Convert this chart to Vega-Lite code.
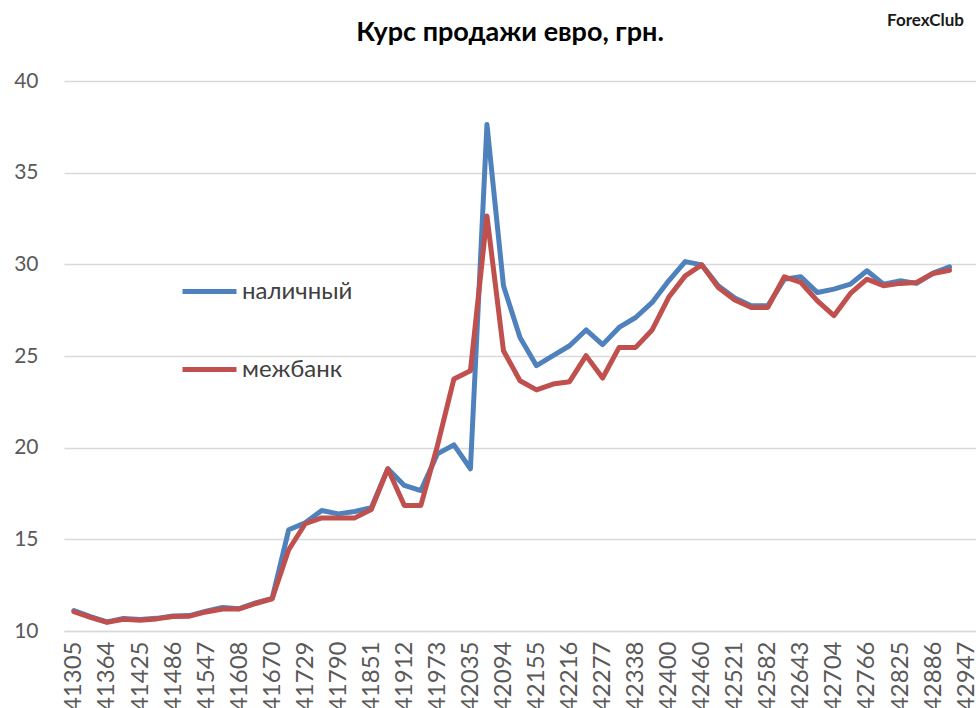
{
  "$schema": "https://vega.github.io/schema/vega-lite/v6.json",
  "autosize": {"type": "none"},
  "width": 912,
  "height": 550,
  "padding": {"left": 64, "top": 81, "right": 0, "bottom": 77},
  "background": "white",
  "title": {
    "text": "Курс продажи евро, грн.",
    "font": "Lato",
    "fontSize": 27,
    "fontWeight": "bold",
    "color": "#000000",
    "anchor": "middle",
    "frame": "group",
    "dx": -10,
    "offset": -35
  },
  "config": {
    "view": {"stroke": null},
    "font": "Lato"
  },
  "datasets": {
    "rates": [
      {"d": 41305, "s": "наличный", "v": 11.12}, {"d": 41333, "s": "наличный", "v": 10.78},
      {"d": 41364, "s": "наличный", "v": 10.5}, {"d": 41394, "s": "наличный", "v": 10.68},
      {"d": 41425, "s": "наличный", "v": 10.63}, {"d": 41455, "s": "наличный", "v": 10.69},
      {"d": 41486, "s": "наличный", "v": 10.82}, {"d": 41517, "s": "наличный", "v": 10.84},
      {"d": 41547, "s": "наличный", "v": 11.08}, {"d": 41578, "s": "наличный", "v": 11.28},
      {"d": 41608, "s": "наличный", "v": 11.22}, {"d": 41639, "s": "наличный", "v": 11.53},
      {"d": 41670, "s": "наличный", "v": 11.78}, {"d": 41698, "s": "наличный", "v": 15.52},
      {"d": 41729, "s": "наличный", "v": 15.9}, {"d": 41759, "s": "наличный", "v": 16.57},
      {"d": 41790, "s": "наличный", "v": 16.39}, {"d": 41820, "s": "наличный", "v": 16.52},
      {"d": 41851, "s": "наличный", "v": 16.72}, {"d": 41882, "s": "наличный", "v": 18.85},
      {"d": 41912, "s": "наличный", "v": 17.94}, {"d": 41943, "s": "наличный", "v": 17.66},
      {"d": 41973, "s": "наличный", "v": 19.66}, {"d": 42004, "s": "наличный", "v": 20.15},
      {"d": 42035, "s": "наличный", "v": 18.85}, {"d": 42063, "s": "наличный", "v": 37.63},
      {"d": 42094, "s": "наличный", "v": 28.83}, {"d": 42124, "s": "наличный", "v": 26.01},
      {"d": 42155, "s": "наличный", "v": 24.47}, {"d": 42185, "s": "наличный", "v": 25.02},
      {"d": 42216, "s": "наличный", "v": 25.56}, {"d": 42247, "s": "наличный", "v": 26.42},
      {"d": 42277, "s": "наличный", "v": 25.62}, {"d": 42308, "s": "наличный", "v": 26.56},
      {"d": 42338, "s": "наличный", "v": 27.1}, {"d": 42369, "s": "наличный", "v": 27.92},
      {"d": 42400, "s": "наличный", "v": 29.1}, {"d": 42429, "s": "наличный", "v": 30.15},
      {"d": 42460, "s": "наличный", "v": 29.97}, {"d": 42490, "s": "наличный", "v": 28.83},
      {"d": 42521, "s": "наличный", "v": 28.16}, {"d": 42551, "s": "наличный", "v": 27.74},
      {"d": 42582, "s": "наличный", "v": 27.74}, {"d": 42613, "s": "наличный", "v": 29.19},
      {"d": 42643, "s": "наличный", "v": 29.32}, {"d": 42674, "s": "наличный", "v": 28.46},
      {"d": 42704, "s": "наличный", "v": 28.65}, {"d": 42735, "s": "наличный", "v": 28.92},
      {"d": 42766, "s": "наличный", "v": 29.65}, {"d": 42794, "s": "наличный", "v": 28.92},
      {"d": 42825, "s": "наличный", "v": 29.1}, {"d": 42855, "s": "наличный", "v": 28.96},
      {"d": 42886, "s": "наличный", "v": 29.52}, {"d": 42916, "s": "наличный", "v": 29.86},
      {"d": 41305, "s": "межбанк", "v": 11.05}, {"d": 41333, "s": "межбанк", "v": 10.74},
      {"d": 41364, "s": "межбанк", "v": 10.47}, {"d": 41394, "s": "межбанк", "v": 10.64},
      {"d": 41425, "s": "межбанк", "v": 10.59}, {"d": 41455, "s": "межбанк", "v": 10.66},
      {"d": 41486, "s": "межбанк", "v": 10.79}, {"d": 41517, "s": "межбанк", "v": 10.81},
      {"d": 41547, "s": "межбанк", "v": 11.04}, {"d": 41578, "s": "межбанк", "v": 11.2},
      {"d": 41608, "s": "межбанк", "v": 11.2}, {"d": 41639, "s": "межбанк", "v": 11.5},
      {"d": 41670, "s": "межбанк", "v": 11.76}, {"d": 41698, "s": "межбанк", "v": 14.43},
      {"d": 41729, "s": "межбанк", "v": 15.85}, {"d": 41759, "s": "межбанк", "v": 16.17},
      {"d": 41790, "s": "межбанк", "v": 16.17}, {"d": 41820, "s": "межбанк", "v": 16.17},
      {"d": 41851, "s": "межбанк", "v": 16.63}, {"d": 41882, "s": "межбанк", "v": 18.85},
      {"d": 41912, "s": "межбанк", "v": 16.85}, {"d": 41943, "s": "межбанк", "v": 16.85},
      {"d": 41973, "s": "межбанк", "v": 20.1}, {"d": 42004, "s": "межбанк", "v": 23.75},
      {"d": 42035, "s": "межбанк", "v": 24.2}, {"d": 42063, "s": "межбанк", "v": 32.64},
      {"d": 42094, "s": "межбанк", "v": 25.29}, {"d": 42124, "s": "межбанк", "v": 23.65},
      {"d": 42155, "s": "межбанк", "v": 23.15}, {"d": 42185, "s": "межбанк", "v": 23.47},
      {"d": 42216, "s": "межбанк", "v": 23.6}, {"d": 42247, "s": "межбанк", "v": 25.02},
      {"d": 42277, "s": "межбанк", "v": 23.8}, {"d": 42308, "s": "межбанк", "v": 25.47},
      {"d": 42338, "s": "межбанк", "v": 25.47}, {"d": 42369, "s": "межбанк", "v": 26.42},
      {"d": 42400, "s": "межбанк", "v": 28.2}, {"d": 42429, "s": "межбанк", "v": 29.37},
      {"d": 42460, "s": "межбанк", "v": 29.97}, {"d": 42490, "s": "межбанк", "v": 28.74},
      {"d": 42521, "s": "межбанк", "v": 28.05}, {"d": 42551, "s": "межбанк", "v": 27.65},
      {"d": 42582, "s": "межбанк", "v": 27.65}, {"d": 42613, "s": "межбанк", "v": 29.32},
      {"d": 42643, "s": "межбанк", "v": 29.01}, {"d": 42674, "s": "межбанк", "v": 28.01},
      {"d": 42704, "s": "межбанк", "v": 27.2}, {"d": 42735, "s": "межбанк", "v": 28.41},
      {"d": 42766, "s": "межбанк", "v": 29.19}, {"d": 42794, "s": "межбанк", "v": 28.83},
      {"d": 42825, "s": "межбанк", "v": 28.96}, {"d": 42855, "s": "межбанк", "v": 29.01},
      {"d": 42886, "s": "межбанк", "v": 29.5}, {"d": 42916, "s": "межбанк", "v": 29.68}
    ],
    "logo": [{"d": 42855, "v": 43.3, "t": "ForexClub"}]
  },
  "encoding": {
    "x": {
      "field": "d",
      "type": "ordinal",
      "scale": {
        "type": "point",
        "padding": 0.6,
        "domain": [41305, 41333, 41364, 41394, 41425, 41455, 41486, 41517, 41547, 41578, 41608, 41639,
                   41670, 41698, 41729, 41759, 41790, 41820, 41851, 41882, 41912, 41943, 41973, 42004,
                   42035, 42063, 42094, 42124, 42155, 42185, 42216, 42247, 42277, 42308, 42338, 42369,
                   42400, 42429, 42460, 42490, 42521, 42551, 42582, 42613, 42643, 42674, 42704, 42735,
                   42766, 42794, 42825, 42855, 42886, 42916, 42947]
      },
      "axis": {
        "title": null,
        "values": [41305, 41364, 41425, 41486, 41547, 41608, 41670, 41729, 41790, 41851, 41912, 41973,
                   42035, 42094, 42155, 42216, 42277, 42338, 42400, 42460, 42521, 42582, 42643, 42704,
                   42766, 42825, 42886, 42947],
        "labelAngle": -90,
        "labelFontSize": 24,
        "labelColor": "#595959",
        "labelFont": "Lato",
        "labelPadding": 10,
        "labelOverlap": false,
        "ticks": false,
        "domain": true,
        "domainColor": "#d9d9d9",
        "domainWidth": 1.3,
        "grid": false
      }
    },
    "y": {
      "field": "v",
      "type": "quantitative",
      "scale": {"domain": [10, 40], "nice": false, "zero": false},
      "axis": {
        "title": null,
        "values": [10, 15, 20, 25, 30, 35, 40],
        "labelFontSize": 21,
        "labelColor": "#595959",
        "labelFont": "Lato",
        "labelPadding": 26,
        "ticks": false,
        "domain": false,
        "grid": true,
        "gridColor": "#d9d9d9",
        "gridWidth": 1.3
      }
    }
  },
  "layer": [
    {
      "data": {"name": "rates"},
      "transform": [{"filter": "datum.s === 'наличный'"}],
      "mark": {"type": "line", "strokeWidth": 5, "strokeJoin": "round", "strokeCap": "round"},
      "encoding": {
        "color": {
          "field": "s",
          "type": "nominal",
          "scale": {"domain": ["наличный", "межбанк"], "range": ["#4F81BD", "#C0504D"]},
          "legend": {
            "title": null,
            "orient": "none",
            "legendX": 116,
            "legendY": 181,
            "padding": 0,
            "symbolType": "stroke",
            "symbolSize": 2916,
            "symbolStrokeWidth": 5,
            "labelFontSize": 24,
            "labelFont": "Lato",
            "labelColor": "#404040",
            "labelOffset": 3,
            "rowPadding": 36
          }
        }
      }
    },
    {
      "data": {"name": "rates"},
      "transform": [{"filter": "datum.s === 'межбанк'"}],
      "mark": {"type": "line", "strokeWidth": 5, "strokeJoin": "round", "strokeCap": "round"},
      "encoding": {
        "color": {"field": "s", "type": "nominal"}
      }
    },
    {
      "data": {"name": "logo"},
      "mark": {"type": "text", "font": "Lato", "fontSize": 17, "fontWeight": "bold", "color": "#1a1a1a", "dx": 9, "align": "center", "baseline": "middle"},
      "encoding": {"text": {"field": "t"}}
    }
  ]
}
